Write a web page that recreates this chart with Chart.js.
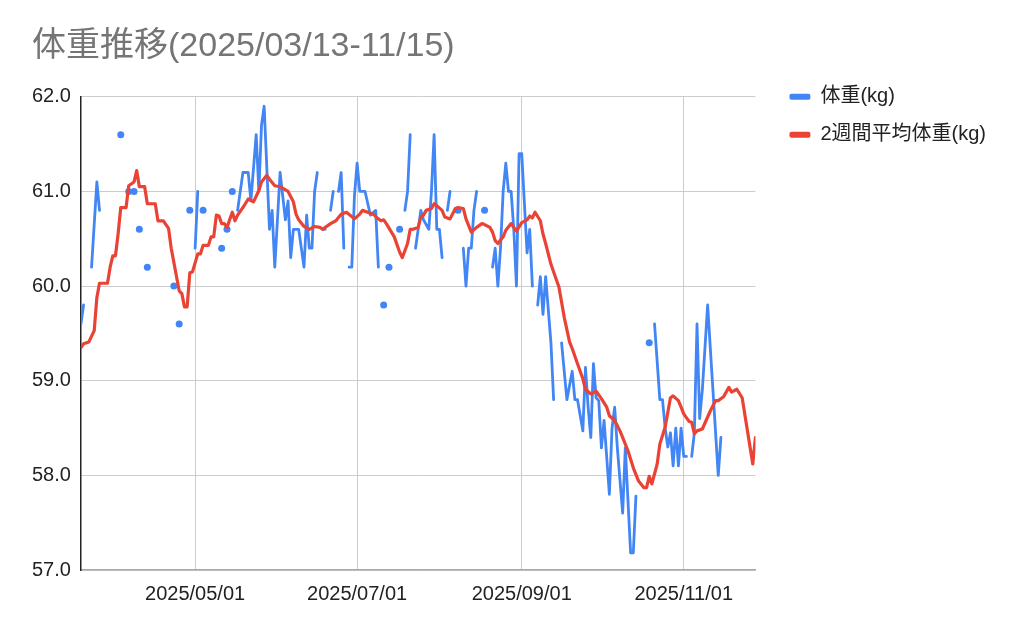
<!DOCTYPE html>
<html>
<head>
<meta charset="utf-8">
<script src="https://cdn.jsdelivr.net/npm/chart.js@4.4.1/dist/chart.umd.min.js"></script>
<style>
  html, body { margin: 0; padding: 0; background: #fff; }
  #wrap { width: 1024px; height: 633px; }
</style>
</head>
<body>
<div id="wrap"><canvas id="weightChart" width="1024" height="633"></canvas></div>
<script>
// day numbers count from the first day shown on the axis
const START = '2025/03/19';
const LAST_DAY = 254;

// daily weight, null = no measurement that day
const weightDay = [
  0, 1, 2, 4, 6, 7, 8, 15, 16, 18,
  19, 20, 21, 22, 23, 25, 26, 35, 36, 37,
  38, 41, 42, 43, 44, 45, 46, 47, 53, 54,
  55, 56, 57, 58, 59, 61, 63, 64, 66, 67,
  68, 69, 71, 72, 73, 75, 77, 78, 79, 80,
  82, 84, 85, 86, 87, 88, 89, 90, 91, 92,
  93, 94, 95, 96, 97, 98, 99, 100, 101, 102,
  103, 104, 105, 107, 109, 111, 112, 113, 114, 115,
  116, 117, 120, 121, 122, 123, 124, 125, 126, 128,
  129, 131, 132, 133, 134, 135, 136, 137, 138, 139,
  140, 142, 143, 144, 145, 146, 147, 148, 149, 150,
  152, 153, 155, 156, 157, 158, 159, 160, 161, 162,
  163, 164, 165, 166, 168, 169, 170, 171, 172, 173,
  174, 175, 177, 178, 179, 181, 183, 185, 186, 187,
  189, 190, 191, 192, 193, 194, 195, 196, 197, 199,
  200, 201, 202, 204, 205, 207, 208, 209, 210, 214,
  215, 216, 218, 219, 220, 221, 222, 223, 224, 225,
  226, 227, 228, 229, 230, 231, 232, 233, 234, 236,
  240, 241
];
const weightKg = [
  59.6, 59.8, null, 60.2, 61.1, 60.8, null, 61.6, null, 61.0,
  null, 61.0, null, 60.6, null, 60.2, null, 60.0, null, 59.6,
  null, 60.8, null, 60.4, 61.0, null, 60.8, null, 60.4, null,
  60.6, null, 61.0, null, 60.8, 61.2, 61.2, 60.9, 61.6, 61.0,
  61.7, 61.9, 60.6, 60.8, 60.2, 61.2, 60.7, 60.9, 60.3, 60.6,
  60.6, 60.2, 60.75, 60.4, 60.4, 61.0, 61.2, null, 60.6, 60.6,
  null, 60.8, 61.0, null, 61.0, 61.2, 60.4, null, 60.2, 60.2,
  60.95, 61.3, 61.0, 61.0, 60.75, 60.8, 60.2, null, 59.8, null,
  60.2, null, 60.6, null, 60.8, 61.0, 61.6, null, 60.4, 60.8,
  60.7, 60.6, 61.0, 61.6, 60.6, 60.6, 60.3, null, 60.8, 61.0,
  null, 60.8, null, 60.4, 60.0, 60.4, 60.4, 60.8, 61.0, null,
  60.8, null, 60.2, 60.4, 60.0, 60.4, 61.0, 61.3, 61.0, 61.0,
  60.6, 60.0, 61.4, 61.4, 60.35, 60.6, 60.0, null, 59.8, 60.1,
  59.7, 60.1, 59.4, 58.8, null, 59.4, 58.8, 59.1, 58.8, 58.8,
  58.47, 59.14, 58.72, 58.4, 59.18, 58.82, 58.79, 58.29, 58.58, 57.8,
  58.5, 58.72, 58.29, 57.6, 58.29, 57.18, 57.18, 57.78, null, 59.4,
  null, 59.6, 58.8, 58.8, 58.5, 58.3, 58.45, 58.1, 58.5, 58.1,
  58.5, 58.2, 58.2, null, 58.2, 58.45, 59.6, 58.6, 58.9, 59.8,
  58.0, 58.4
];

// 2-week average, read at the corners of the red line
const avgDay = [
  0, 1, 3, 5, 6, 7, 10, 11, 12, 13,
  14, 15, 17, 18, 20, 21, 22, 24, 25, 28,
  29, 31, 33, 34, 37, 38, 39, 40, 41, 42,
  44, 45, 46, 48, 49, 50, 51, 52, 53, 54,
  55, 57, 58, 59, 61, 63, 65, 67, 68, 70,
  71, 73, 75, 78, 80, 81, 82, 84, 86, 88,
  90, 91, 94, 96, 98, 100, 103, 105, 106, 108,
  110, 112, 113, 114, 115, 118, 120, 121,
  123, 124, 125, 127, 128, 129, 130, 132, 133, 134,
  136, 137, 139, 141, 142, 144, 145, 147, 149, 151,
  152, 154, 155, 156, 157, 159, 160, 162, 164, 166,
  168, 169, 170, 171, 173, 174, 175, 177, 180, 182,
  184, 185, 187, 189, 190, 192, 194, 196, 198, 199,
  201, 203, 205, 206, 208, 210, 212, 213, 214, 215,
  217, 218, 220, 222, 223, 225, 226, 227, 229, 230,
  231, 232, 234, 237, 239, 240, 242, 244, 245, 247,
  249, 251, 253, 254
];
const avgKg = [
  59.35, 59.39, 59.41, 59.53, 59.88, 60.03, 60.03, 60.20, 60.32, 60.32,
  60.55, 60.83, 60.83, 61.06, 61.10, 61.22, 61.05, 61.05, 60.87, 60.87,
  60.69, 60.69, 60.61, 60.40, 59.95, 59.92, 59.78, 59.78, 60.14, 60.15,
  60.34, 60.34, 60.43, 60.43, 60.52, 60.52, 60.75, 60.74, 60.66, 60.66,
  60.62, 60.78, 60.69, 60.75, 60.83, 60.92, 60.89, 61.01, 61.10, 61.17,
  61.13, 61.06, 61.05, 61.00, 60.89, 60.76, 60.70, 60.63, 60.60, 60.63,
  60.62, 60.60, 60.66, 60.69, 60.76, 60.78, 60.71, 60.76, 60.80, 60.78,
  60.76, 60.71, 60.69, 60.70, 60.66, 60.52, 60.36, 60.30,
  60.45, 60.60, 60.60, 60.62, 60.73, 60.75, 60.80, 60.82, 60.87, 60.85,
  60.80, 60.73, 60.71, 60.82, 60.83, 60.82, 60.71, 60.57, 60.62, 60.66,
  60.65, 60.62, 60.57, 60.48, 60.45, 60.52, 60.59, 60.66, 60.58, 60.67,
  60.70, 60.74, 60.72, 60.78, 60.69, 60.55, 60.45, 60.23, 59.99, 59.67,
  59.41, 59.34, 59.18, 59.02, 58.91, 58.86, 58.89, 58.81, 58.72, 58.63,
  58.58, 58.47, 58.33, 58.26, 58.08, 57.94, 57.87, 57.87, 57.99, 57.91,
  58.12, 58.33, 58.51, 58.82, 58.84, 58.79, 58.72, 58.65, 58.57, 58.56,
  58.44, 58.47, 58.49, 58.68, 58.79, 58.79, 58.83, 58.93, 58.88, 58.91,
  58.82, 58.47, 58.12, 58.40
];

const xTickLabels = ['2025/05/01', '2025/07/01', '2025/09/01', '2025/11/01'];
const yTicks = [57, 58, 59, 60, 61, 62];

const BLUE = '#4285f4';
const RED = '#ea4335';

function dayOf(s) {
  const [y, m, d] = s.split('/').map(Number);
  const [y0, m0, d0] = START.split('/').map(Number);
  return Math.round((Date.UTC(y, m - 1, d) - Date.UTC(y0, m0 - 1, d0)) / 864e5);
}
const xTickDays = xTickLabels.map(dayOf);

// single readings with no neighbour get drawn as a dot, like sheets does
function isolatedDot(ctx) {
  const d = ctx.dataset.data;
  const i = ctx.dataIndex;
  const empty = j => j < 0 || j >= d.length || d[j].y === null;
  return (!empty(i) && empty(i - 1) && empty(i + 1)) ? 3.5 : 0;
}

// move the legend next to the plot top instead of the canvas top
const legendNudge = {
  id: 'legendNudge',
  afterLayout(chart) {
    const lg = chart.legend;
    const dx = chart.chartArea.right + 16 - lg.left;
    lg.left += dx;
    lg.right += dx;
    lg.top = chart.chartArea.top - 28;
  }
};

// chart.js counts tick padding twice when sizing an axis
const trimPad = s => {
  if (s.isHorizontal()) s.height -= s.options.ticks.padding;
  else s.width -= s.options.ticks.padding;
};

Chart.defaults.font.family = 'Arial, "Liberation Sans", "Noto Sans CJK JP", sans-serif';

const chart = new Chart(document.getElementById('weightChart'), {
  type: 'line',
  data: {
    datasets: [{
      label: '体重(kg)',
      data: weightDay.map((d, i) => ({ x: d, y: weightKg[i] })),
      borderColor: BLUE,
      backgroundColor: BLUE,
      borderWidth: 2.8,
      pointRadius: isolatedDot,
      pointHoverRadius: 0,
      pointBorderWidth: 0,
      spanGaps: false,
      order: 1
    }, {
      label: '2週間平均体重(kg)',
      data: avgDay.map((d, i) => ({ x: d, y: avgKg[i] })),
      borderColor: RED,
      backgroundColor: RED,
      borderWidth: 3.2,
      pointRadius: 0,
      pointHoverRadius: 0,
      order: 0
    }]
  },
  options: {
    responsive: false,
    animation: false,
    events: [],
    layout: { padding: { left: 32, right: 44, top: 0, bottom: 27 } },
    elements: { line: { tension: 0, borderJoinStyle: 'round', borderCapStyle: 'round' } },
    scales: {
      x: {
        type: 'linear',
        min: 0,
        max: LAST_DAY,
        afterBuildTicks: s => { s.ticks = xTickDays.map(v => ({ value: v })); },
        afterFit: trimPad,
        ticks: {
          autoSkip: false,
          maxRotation: 0,
          padding: 12,
          color: '#222',
          font: { size: 20 },
          callback: v => xTickLabels[xTickDays.indexOf(v)]
        },
        grid: { color: '#cccccc', drawTicks: false },
        border: { color: '#aaaaaa', width: 1.5 }
      },
      y: {
        min: 57,
        max: 62,
        afterBuildTicks: s => { s.ticks = yTicks.map(v => ({ value: v })); },
        afterFit: trimPad,
        ticks: {
          padding: 10,
          color: '#222',
          font: { size: 20 },
          callback: v => v.toFixed(1)
        },
        grid: { color: '#cccccc', drawTicks: false },
        border: { color: '#222', width: 1.5 }
      }
    },
    plugins: {
      title: {
        display: true,
        text: '体重推移(2025/03/13-11/15)',
        align: 'start',
        color: '#757575',
        font: { size: 34, weight: 'normal' },
        padding: { top: 26, bottom: 30 }
      },
      legend: {
        position: 'right',
        align: 'start',
        labels: {
          boxWidth: 21,
          boxHeight: 6,
          padding: 18,
          color: '#222',
          font: { size: 20 },
          useBorderRadius: true,
          borderRadius: 2,
          sort: (a, b) => a.datasetIndex - b.datasetIndex,
          generateLabels: c => Chart.defaults.plugins.legend.labels.generateLabels(c)
            .map(l => ({ ...l, lineWidth: 0 }))
        }
      },
      tooltip: { enabled: false }
    }
  },
  plugins: [legendNudge]
});
</script>
</body>
</html>
